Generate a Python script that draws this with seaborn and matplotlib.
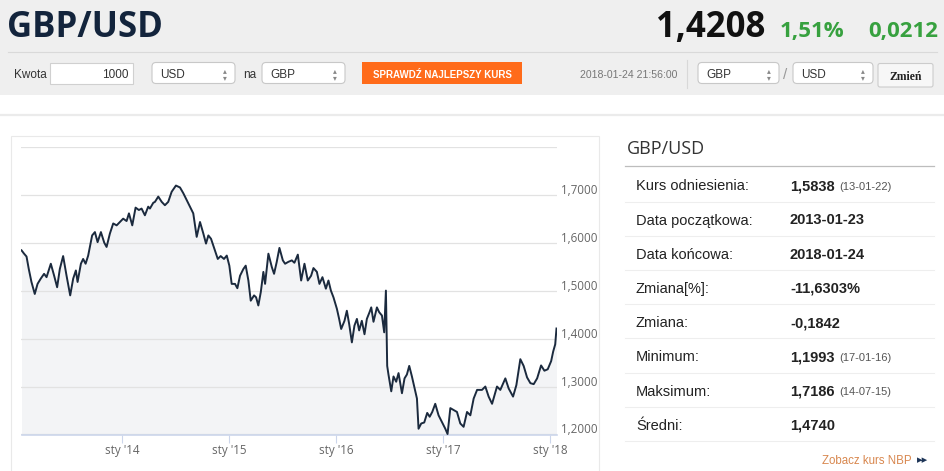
import matplotlib
matplotlib.use("Agg")
import matplotlib.pyplot as plt
import seaborn as sns
from matplotlib.patches import Rectangle, FancyBboxPatch
from matplotlib.transforms import ScaledTranslation

# --- dane: rok (ułamek dziesiętny) i kurs GBP/USD ---
lata = [
    2013.062, 2013.086, 2013.109, 2013.130, 2013.155, 2013.186, 2013.212, 2013.242,
    2013.273, 2013.296, 2013.336, 2013.367, 2013.395, 2013.420, 2013.451, 2013.483,
    2013.517, 2013.545, 2013.570, 2013.586, 2013.617, 2013.638, 2013.661, 2013.685,
    2013.722, 2013.748, 2013.773, 2013.804, 2013.835, 2013.857, 2013.888, 2013.919,
    2013.951, 2013.981, 2014.012, 2014.044, 2014.066, 2014.097, 2014.128, 2014.159,
    2014.184, 2014.215, 2014.246, 2014.262, 2014.293, 2014.309, 2014.340, 2014.372,
    2014.402, 2014.433, 2014.465, 2014.505, 2014.543, 2014.574, 2014.605, 2014.636,
    2014.667, 2014.699, 2014.730, 2014.761, 2014.786, 2014.808, 2014.833, 2014.864,
    2014.896, 2014.923, 2014.954, 2014.980, 2015.004, 2015.026, 2015.057, 2015.079,
    2015.104, 2015.135, 2015.157, 2015.182, 2015.204, 2015.235, 2015.254, 2015.275,
    2015.298, 2015.322, 2015.338, 2015.369, 2015.401, 2015.422, 2015.447, 2015.472,
    2015.504, 2015.525, 2015.556, 2015.588, 2015.612, 2015.644, 2015.675, 2015.706,
    2015.737, 2015.768, 2015.790, 2015.822, 2015.846, 2015.874, 2015.906, 2015.930,
    2015.953, 2015.977, 2016.009, 2016.030, 2016.049, 2016.080, 2016.102, 2016.124,
    2016.149, 2016.173, 2016.196, 2016.217, 2016.242, 2016.267, 2016.289, 2016.314,
    2016.330, 2016.351, 2016.383, 2016.404, 2016.430, 2016.451, 2016.467, 2016.479,
    2016.491, 2016.517, 2016.538, 2016.563, 2016.585, 2016.617, 2016.641, 2016.663,
    2016.685, 2016.710, 2016.735, 2016.757, 2016.772, 2016.797, 2016.825, 2016.853,
    2016.876, 2016.900, 2016.928, 2016.959, 2016.991, 2017.022, 2017.043, 2017.069,
    2017.100, 2017.131, 2017.162, 2017.193, 2017.225, 2017.256, 2017.287, 2017.319,
    2017.365, 2017.396, 2017.427, 2017.459, 2017.505, 2017.536, 2017.583, 2017.614,
    2017.655, 2017.686, 2017.723, 2017.754, 2017.786, 2017.817, 2017.848, 2017.880,
    2017.917, 2017.948, 2017.979, 2018.011, 2018.030, 2018.049, 2018.061,
]
kurs = [
    1.584, 1.577, 1.571, 1.545, 1.518, 1.493, 1.514, 1.525,
    1.535, 1.528, 1.556, 1.531, 1.507, 1.545, 1.572, 1.531,
    1.490, 1.525, 1.542, 1.518, 1.556, 1.566, 1.556, 1.573,
    1.615, 1.622, 1.601, 1.622, 1.600, 1.591, 1.619, 1.640,
    1.636, 1.643, 1.650, 1.645, 1.661, 1.636, 1.673, 1.668,
    1.671, 1.657, 1.675, 1.671, 1.683, 1.685, 1.696, 1.685,
    1.678, 1.685, 1.706, 1.719, 1.715, 1.703, 1.689, 1.675,
    1.661, 1.612, 1.643, 1.619, 1.598, 1.615, 1.608, 1.587,
    1.566, 1.572, 1.566, 1.573, 1.552, 1.514, 1.514, 1.505,
    1.531, 1.545, 1.552, 1.521, 1.479, 1.490, 1.486, 1.469,
    1.497, 1.539, 1.514, 1.577, 1.549, 1.535, 1.560, 1.589,
    1.563, 1.556, 1.560, 1.563, 1.558, 1.575, 1.521, 1.556,
    1.521, 1.531, 1.547, 1.539, 1.514, 1.528, 1.504, 1.521,
    1.500, 1.486, 1.462, 1.441, 1.420, 1.437, 1.458, 1.430,
    1.392, 1.427, 1.441, 1.417, 1.437, 1.409, 1.441, 1.455,
    1.465, 1.435, 1.465, 1.455, 1.448, 1.413, 1.500, 1.343,
    1.325, 1.290, 1.321, 1.310, 1.328, 1.286, 1.317, 1.325,
    1.343, 1.321, 1.296, 1.275, 1.212, 1.223, 1.225, 1.245,
    1.237, 1.247, 1.264, 1.240, 1.226, 1.212, 1.201, 1.255,
    1.251, 1.247, 1.223, 1.216, 1.247, 1.240, 1.275, 1.293,
    1.293, 1.300, 1.279, 1.264, 1.300, 1.293, 1.317, 1.296,
    1.279, 1.303, 1.357, 1.343, 1.319, 1.307, 1.305, 1.317,
    1.344, 1.333, 1.336, 1.353, 1.373, 1.388, 1.421,
]

os_x_lata = [2014, 2015, 2016, 2017, 2018]
os_x_etykiety = ["sty '14", "sty '15", "sty '16", "sty '17", "sty '18"]
os_y_wartosci = [1.2, 1.3, 1.4, 1.5, 1.6, 1.7, 1.8]
os_y_etykiety = ["1,2000", "1,3000", "1,4000", "1,5000", "1,6000", "1,7000", ""]

para = "GBP/USD"
kurs_biezacy = "1,4208"
zmiana_proc = "1,51%"
zmiana_abs = "0,0212"
data_notowania = "2018-01-24 21:56:00"

tabela_etykiety = ["Kurs odniesienia:", "Data początkowa:", "Data końcowa:",
                   "Zmiana[%]:", "Zmiana:", "Minimum:", "Maksimum:", "Średni:"]
tabela_wartosci = ["1,5838", "2013-01-23", "2018-01-24", "-11,6303%",
                   "-0,1842", "1,1993", "1,7186", "1,4740"]
tabela_daty = ["(13-01-22)", "", "", "", "", "(17-01-16)", "(14-07-15)", ""]

W, H = 945, 471
GRANAT = "#13243c"
ZIELONY = "#37a13f"
POMARANCZ = "#ff6b1a"
SANS = "Liberation Sans"
OPEN = "Open Sans"

fig = plt.figure(figsize=(W / 100, H / 100), dpi=100)
fig.patch.set_facecolor("white")

# tło strony w pikselach
tlo = fig.add_axes([0, 0, 1, 1])
tlo.set_xlim(0, W)
tlo.set_ylim(H, 0)
tlo.axis("off")

tlo.add_patch(Rectangle((0, 0), W, 95, fc="#efefef", ec="none"))
tlo.plot([8, 937], [52, 52], color="#d9d9d9", lw=0.8)
tlo.plot([0, W], [115, 115], color="#ebebeb", lw=1.6)
tlo.add_patch(Rectangle((10.5, 136), 588, 360, fc="white", ec="#e9e9e9", lw=0.8))

# nagłówek
tlo.text(7, 37, para, fontsize=25, fontweight="bold", color=GRANAT, family=OPEN, va="baseline")
tlo.text(765, 37, kurs_biezacy, fontsize=25, fontweight="bold", color="#111111", family=OPEN,
         va="baseline", ha="right")
tlo.text(780, 37, zmiana_proc, fontsize=16, fontweight="bold", color=ZIELONY, family=OPEN,
         va="baseline")
tlo.text(938, 37, zmiana_abs, fontsize=16, fontweight="bold", color=ZIELONY, family=OPEN,
         va="baseline", ha="right")


def pole_wyboru(x0, x1, tekst):
    tlo.add_patch(FancyBboxPatch((x0, 62.5), x1 - x0, 21, boxstyle="round,pad=0,rounding_size=4",
                                 fc="white", ec="#c8c8c8", lw=0.8))
    tlo.text(x0 + 8, 78, tekst, fontsize=8.5, color="#333333", family=SANS, va="baseline")
    # strzałki listy jako jeden tekst w dwóch wierszach
    tlo.text(x1 - 10, 74, "▴\n▾", fontsize=5.5, color="#888888", ha="center", va="center",
             linespacing=0.75, family="DejaVu Sans")


# pasek kontrolek
tlo.text(14, 78, "Kwota", fontsize=8.5, color="#333333", family=SANS, va="baseline")
tlo.add_patch(Rectangle((50, 62.5), 83, 21.5, fc="white", ec="#d0d0d0", lw=0.8))
tlo.text(129, 78, "1000", fontsize=8.5, color="#333333", family=SANS, va="baseline", ha="right")
pole_wyboru(152, 235, "USD")
tlo.text(243, 78, "na", fontsize=8.5, color="#333333", family=SANS, va="baseline")
pole_wyboru(262, 345, "GBP")
tlo.add_patch(Rectangle((362, 62), 160, 22, fc=POMARANCZ, ec="none"))
tlo.text(442, 77.5, "SPRAWDŹ NAJLEPSZY KURS", fontsize=7, fontweight="bold", color="white",
         family=SANS, va="baseline", ha="center")
tlo.text(677, 78, data_notowania, fontsize=7.6, color="#777777", family=SANS, va="baseline",
         ha="right")
tlo.plot([687, 687], [60, 88], color="#d8d8d8", lw=0.8)
pole_wyboru(698, 779, "GBP")
tlo.text(785.5, 79, "/", fontsize=11, color="#999999", family=SANS, va="baseline", ha="center")
pole_wyboru(793, 873, "USD")
tlo.add_patch(FancyBboxPatch((878, 63.5), 55, 23.5, boxstyle="round,pad=0,rounding_size=2",
                             fc="#f7f7f7", ec="#cccccc", lw=0.8))
tlo.text(905.5, 79.5, "Zmień", fontsize=8.5, fontweight="bold", color="#222222",
         family="Liberation Serif", va="baseline", ha="center")

# panel z tabelą
tlo.text(627, 154.5, para, fontsize=13, color="#333333", family=OPEN, va="baseline")
tlo.plot([625, 934], [166, 166], color="#bdbdbd", lw=0.9)
for i, (etk, wart, dat) in enumerate(zip(tabela_etykiety, tabela_wartosci, tabela_daty)):
    yb = 190.3 + i * 34.2
    tlo.text(636, yb, etk, fontsize=10.5, color="#222222", family=SANS, va="baseline")
    tlo.text(790, yb, wart, fontsize=10.5, fontweight="bold", color="#222222", family=SANS,
             va="baseline")
    if dat:
        tlo.text(839, yb - 0.5, dat, fontsize=8, color="#555555", family=SANS, va="baseline")
    tlo.plot([625, 934], [201.5 + i * 34.2] * 2, color="#eeeeee", lw=0.8)
tlo.text(912, 464, "Zobacz kurs NBP", fontsize=8.3, color="#d8874e", family=SANS,
         va="baseline", ha="right")
tlo.text(917, 460.5, "▸▸", fontsize=8, color="#1d3557", family="DejaVu Sans", va="center")

# wykres kursu
ax = fig.add_axes([21.5 / W, (H - 434.5) / H, (556.5 - 21.5) / W, (434.5 - 146.7) / H])
ax.set_facecolor("white")
ax.fill_between(lata, kurs, 1.2, color="#f3f4f6", lw=0, zorder=1)
sns.lineplot(x=lata, y=kurs, ax=ax, color="#1b2a3e", lw=1.4, zorder=3)
ax.set_xlim(lata[0], lata[-1])
ax.set_ylim(1.2, 1.8)
ax.set_xlabel("")
ax.set_ylabel("")

ax.set_yticks(os_y_wartosci)
ax.set_yticklabels(os_y_etykiety, family=OPEN)
ax.yaxis.tick_right()
ax.yaxis.grid(True, color="#e2e2e2", lw=0.9, zorder=1.5)
ax.xaxis.grid(False)
ax.tick_params(axis="y", length=0, pad=3, labelcolor="#666666", labelsize=8.4)
przesuniecie = ScaledTranslation(0, 6 / 100, fig.dpi_scale_trans)
for lab in ax.get_yticklabels():
    lab.set_transform(lab.get_transform() + przesuniecie)

ax.set_xticks(os_x_lata)
ax.set_xticklabels(os_x_etykiety, family=OPEN)
ax.tick_params(axis="x", length=5.5, width=0.8, color="#ccd6eb", labelcolor="#666666",
               labelsize=8.4, pad=1.5)
for strona in ["top", "left", "right"]:
    ax.spines[strona].set_visible(False)
ax.spines["bottom"].set_color("#ccd6eb")
ax.spines["bottom"].set_linewidth(1.2)

fig.savefig("out.png", dpi=100)
